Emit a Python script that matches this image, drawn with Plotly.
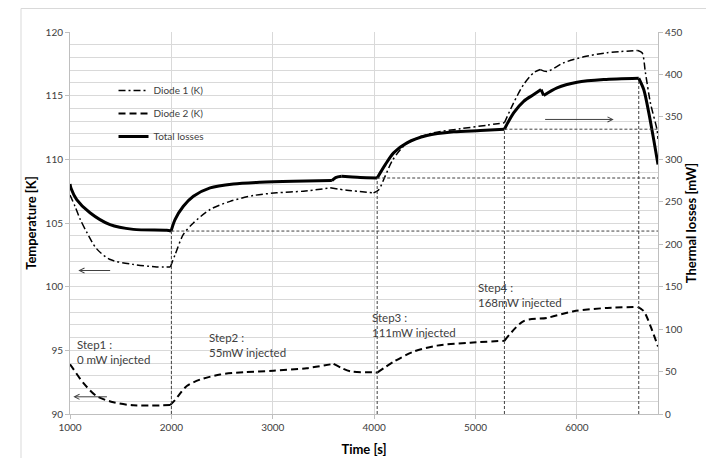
import plotly.graph_objects as go

# ---- measured series ----
# Diode 1 temperature (K), left axis
t_diode1 = [1000, 1050, 1100, 1170, 1260, 1390, 1620, 1855, 1990, 2036, 2118, 2217, 2382,
            2579, 2810, 3040, 3303, 3567, 3731, 3994, 4044, 4110, 4176, 4274, 4389,
            4586, 4850, 5113, 5285, 5376, 5475, 5574, 5640, 5705, 5870, 6067, 6298,
            6600, 6643, 6676, 6726, 6791, 6800]
diode1_K = [107.2, 106.3, 105.3, 104.2, 103.0, 102.15, 101.75, 101.55, 101.55, 102.5, 104.1, 105.0, 106.06,
            106.7, 107.16, 107.37, 107.5, 107.76, 107.57, 107.37, 107.6, 108.7, 109.85, 110.9, 111.56,
            112.08, 112.4, 112.68, 112.87, 114.44, 115.88, 116.8, 117.05, 116.9, 117.58, 118.05, 118.37,
            118.55, 118.37, 116.8, 114.4, 112.3, 111.6]
diode1_kinks = [1990, 3567, 3994, 5285, 5640, 6600]

# Diode 2 temperature (K), left axis
t_diode2 = [1000, 1027, 1131, 1263, 1428, 1625, 1987, 2036, 2152, 2283, 2481, 2711,
            3007, 3336, 3600, 3764, 3994, 4030, 4192, 4389, 4620, 4949, 5285, 5475,
            5705, 5968, 6298, 6600, 6660, 6726, 6800]
diode2_K = [93.9, 93.6, 92.44, 91.4, 90.92, 90.68, 90.7, 91.1, 92.2, 92.7, 93.1, 93.28,
            93.4, 93.6, 93.94, 93.35, 93.28, 93.25, 94.1, 94.9, 95.37, 95.6, 95.75, 97.3,
            97.55, 98.07, 98.33, 98.41, 98.07, 96.9, 95.3]
diode2_kinks = [1987, 3600, 4030, 5285, 6600]

# Total thermal losses (mW), right axis
t_losses = [1000, 1010, 1066, 1197, 1395, 1625, 1954, 1997, 2036, 2118, 2217, 2382,
            2612, 2876, 3204, 3583, 3620, 3680, 3750, 3863, 4030, 4110, 4192, 4324,
            4521, 4784, 5047, 5285, 5376, 5475, 5574, 5647, 5672, 5804, 6002, 6264,
            6610, 6660, 6709, 6758, 6800]
losses_mW = [271, 266, 252.6, 237, 223, 217.5, 216.4, 215.5, 229, 244.7, 256.5, 266.4,
             271, 273, 274.2, 275, 278.5, 280, 279.5, 278.6, 278, 293.8, 307.6, 319.4,
             328, 332.4, 333.9, 335.5, 354.8, 368.4, 376.3, 382.2, 375.2, 384.2, 390.8, 394,
             395.5, 382, 355, 323, 294]
losses_kinks = [1997, 3583, 3680, 4030, 5285, 5647, 5672, 6610]

# Power steps: switching instants (s) and steady total losses reached (mW)
step_times = [2000, 4030, 5285, 6610]
step_levels = [215.5, 278, 335.5, 395.5]
step_labels = ["Step1 :<br>0 mW injected", "Step2 :<br>55mW injected",
               "Step3 :<br>111mW injected", "Step4 :<br>168mW injected"]

# Axis ticks
x_ticks = [1000, 2000, 3000, 4000, 5000, 6000]
x_range = [1000, 6800]
temp_range = [90, 120]
loss_range = [0, 450]

FONT = "Lato"
INK = "#000000"
TXT = "#404040"
GRID = "#d9d9d9"
AXL = "#bfbfbf"


def split_at(t, v, kinks):
    """Cut a curve into smooth pieces that meet at the given kink times."""
    pieces, cur_t, cur_v = [], [], []
    for ti, vi in zip(t, v):
        cur_t.append(ti)
        cur_v.append(vi)
        if ti in kinks:
            pieces.append((cur_t, cur_v))
            cur_t, cur_v = [ti], [vi]
    if len(cur_t) > 1:
        pieces.append((cur_t, cur_v))
    return pieces


fig = go.Figure()


def add_curve(t, v, kinks, name, line, axis):
    for k, (pt, pv) in enumerate(split_at(t, v, kinks)):
        fig.add_trace(go.Scatter(x=pt, y=pv, name=name, mode="lines", yaxis=axis,
                                 line=dict(shape="spline", smoothing=0.8, **line),
                                 legendgroup=name, showlegend=(k == 0)))


add_curve(t_diode1, diode1_K, diode1_kinks, "Diode 1 (K)",
          dict(color=INK, width=1.5, dash="7px,3px,2px,3px"), "y")
add_curve(t_diode2, diode2_K, diode2_kinks, "Diode 2 (K)",
          dict(color=INK, width=2, dash="7px,4px"), "y")
add_curve(t_losses, losses_mW, losses_kinks, "Total losses",
          dict(color=INK, width=3), "y2")

# Guide lines marking each step: vertical drop to the axis, horizontal level to the right edge
gx, gy = [], []
for i, (ts, lv) in enumerate(zip(step_times, step_levels)):
    gx += [ts, ts, None]
    gy += [loss_range[0], lv, None]
    if i < len(step_times) - 1:
        gx += [ts, x_range[1], None]
        gy += [lv, lv, None]
fig.add_trace(go.Scatter(x=gx, y=gy, mode="lines", yaxis="y2", showlegend=False,
                         line=dict(color="#404040", width=1, dash="3px,2px"),
                         hoverinfo="skip"))

annotations = []
label_pos = [(1050, 94.86), (2355, 95.45), (3962, 96.96), (5000, 99.36)]
for txt, (lx, ly) in zip(step_labels, label_pos):
    annotations.append(dict(x=lx, y=ly, xref="x", yref="y", text=txt, showarrow=False,
                            xanchor="left", yanchor="middle", align="left",
                            font=dict(family=FONT, size=11.5, color=TXT)))

# Arrows pointing each curve to its axis
arrow_style = dict(showarrow=True, arrowhead=5, arrowsize=1, arrowwidth=1,
                   arrowcolor="#404040", text="")
annotations.append(dict(x=1082, y=101.27, ax=1411, ay=101.27, xref="x", yref="y",
                        axref="x", ayref="y", **arrow_style))
annotations.append(dict(x=1033, y=91.35, ax=1379, ay=91.35, xref="x", yref="y",
                        axref="x", ayref="y", **arrow_style))
annotations.append(dict(x=6363, y=347, ax=5672, ay=347, xref="x", yref="y2",
                        axref="x", ayref="y2", **arrow_style))

fig.update_layout(
    width=706, height=458,
    margin=dict(l=70, r=48, t=32, b=44),
    paper_bgcolor="white", plot_bgcolor="white",
    font=dict(family=FONT, size=10, color=TXT),
    showlegend=True,
    legend=dict(x=0.074, y=0.885, xanchor="left", yanchor="top",
                bgcolor="rgba(0,0,0,0)", borderwidth=0,
                font=dict(family=FONT, size=10, color=TXT),
                traceorder="grouped", tracegroupgap=4, itemwidth=30),
    xaxis=dict(range=x_range, tickvals=x_ticks, showgrid=True, gridcolor=GRID, gridwidth=1,
               showline=True, linecolor=AXL, linewidth=1, ticks="outside", ticklen=4,
               tickcolor=AXL, zeroline=False, automargin=False,
               tickfont=dict(family=FONT, size=10, color=TXT),
               title=dict(text="Time [s]", standoff=12,
                          font=dict(family=FONT, size=13, color=INK, weight="bold"))),
    yaxis=dict(range=temp_range, dtick=5, showgrid=True, gridcolor=GRID, gridwidth=1,
               minor=dict(dtick=1, showgrid=True, gridcolor=GRID, gridwidth=1),
               showline=True, linecolor=AXL, linewidth=1, ticks="outside", ticklen=4,
               tickcolor=AXL, zeroline=False, automargin=False,
               tickfont=dict(family=FONT, size=10, color=TXT),
               title=dict(text="Temperature [K]", standoff=6,
                          font=dict(family=FONT, size=13, color=INK, weight="bold"))),
    yaxis2=dict(range=loss_range, dtick=50, overlaying="y", side="right", showgrid=False,
                showline=True, linecolor=AXL, linewidth=1, ticks="outside", ticklen=4,
                tickcolor=AXL, zeroline=False, automargin=False,
                tickfont=dict(family=FONT, size=10, color=TXT),
                title=dict(text="Thermal losses [mW]", standoff=3,
                           font=dict(family=FONT, size=13, color=INK, weight="bold"))),
    annotations=annotations,
    shapes=[
        dict(type="line", xref="paper", yref="paper", x0=-49 / 588, x1=2.0,
             y0=1 + 23.5 / 382, y1=1 + 23.5 / 382, line=dict(color=GRID, width=1)),
        dict(type="line", xref="paper", yref="paper", x0=-49 / 588, x1=-49 / 588,
             y0=1 + 23.5 / 382, y1=-1.0, line=dict(color=GRID, width=1)),
    ],
)

fig.write_html("out.html")
